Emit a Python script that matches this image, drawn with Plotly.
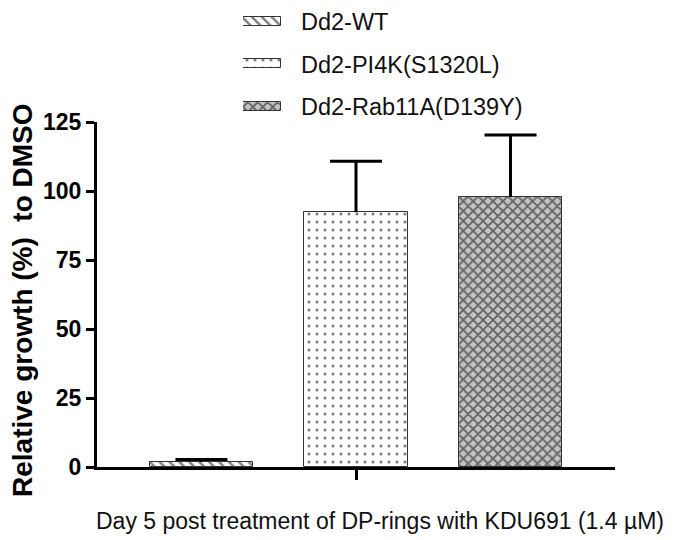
import plotly.graph_objects as go

categories = ["Dd2-WT", "Dd2-PI4K(S1320L)", "Dd2-Rab11A(D139Y)"]
values = [1.8, 92.3, 97.9]
errors = [0.9, 18.5, 22.4]
x_pos = [0, 1, 2]
y_ticks = [0, 25, 50, 75, 100, 125]
x_title = "Day 5 post treatment of DP-rings with KDU691 (1.4 \u00b5M)"
y_title = "Relative growth (%)  to DMSO"

patterns = [
    dict(shape="\\", fgcolor="black", bgcolor="white", size=7, solidity=0.35),
    dict(shape=".", fgcolor="black", bgcolor="white", size=8, solidity=0.12),
    dict(shape="x", fgcolor="black", bgcolor="#c4c4c4", size=7, solidity=0.45),
]

OFF = 8  # page body margin offset
W, H = 675, 540
# target screen positions (pixels) of the plot area
sx0, sx1, sy_top, sy0 = 97, 615, 122, 467
L = sx0 - OFF
R = W - (sx1 - OFF)
T = 0
B = H - (sy0 - OFF)
pw, ph = W - L - R, H - T - B
x_range = [-0.676, 2.676]
cap_half = 26 * (x_range[1] - x_range[0]) / pw  # half cap width in x units

def px_x(p):
    return (p - OFF - L) / pw

def px_y(p):
    return 1 - (p - OFF - T) / ph

font = "Liberation Sans, Arial, sans-serif"
fig = go.Figure()
for i, (c, v, e) in enumerate(zip(categories, values, errors)):
    fig.add_trace(go.Bar(
        x=[x_pos[i]], y=[v], name=c, width=0.667, showlegend=False,
        marker=dict(color=patterns[i]["bgcolor"], pattern=patterns[i],
                    line=dict(color="#333333", width=1)),
    ))

# upper error whiskers with a cap only at the top
tops = [v + e for v, e in zip(values, errors)]
fig.add_trace(go.Scatter(
    x=x_pos, y=tops, mode="markers", showlegend=False, hoverinfo="skip",
    marker=dict(size=1, opacity=0),
    error_y=dict(type="data", array=[0] * len(errors), arrayminus=errors,
                 symmetric=False, color="black", thickness=3, width=0),
    error_x=dict(type="data", array=[cap_half] * len(errors), symmetric=True,
                 color="black", thickness=3, width=0),
))

# legend swatches drawn as horizontal bars in a small overlay subplot
legend_rows = [21, 63.5, 106]
for i, c in enumerate(categories):
    fig.add_trace(go.Bar(
        x=[1], y=[legend_rows[i]], orientation="h", width=9, showlegend=False,
        xaxis="x2", yaxis="y2", hoverinfo="skip",
        marker=dict(color=patterns[i]["bgcolor"], pattern=patterns[i],
                    line=dict(color="#333333", width=1)),
    ))
    fig.add_annotation(text=c, x=px_x(299), y=px_y(legend_rows[i] + 1),
                       xref="paper", yref="paper", xanchor="left", yanchor="middle",
                       showarrow=False, font=dict(size=23.5, family=font, color="#111111"))

fig.add_annotation(text=x_title, x=px_x(380), y=px_y(521), xref="paper", yref="paper",
                   xanchor="center", yanchor="middle", showarrow=False,
                   font=dict(size=23, family=font, color="#111111"))
fig.add_annotation(text=y_title, x=px_x(22), y=px_y(300), xref="paper", yref="paper",
                   xanchor="center", yanchor="middle", showarrow=False, textangle=-90,
                   font=dict(size=28, family=font, color="black", weight="bold"))

fig.update_layout(
    width=W, height=H,
    margin=dict(l=L, r=R, t=T, b=B),
    paper_bgcolor="white", plot_bgcolor="white",
    font=dict(family=font, color="black"),
    showlegend=False, bargap=0,
    xaxis=dict(range=x_range, tickvals=[1], ticktext=[""],
               ticks="outside", ticklen=10, tickwidth=3, tickcolor="black",
               showline=True, linecolor="black", linewidth=3,
               showgrid=False, zeroline=False, automargin=False),
    yaxis=dict(domain=[0, px_y(sy_top)], range=[0, 125], tickvals=y_ticks,
               ticks="outside", ticklen=8, tickwidth=3, tickcolor="black",
               showline=True, linecolor="black", linewidth=3,
               showgrid=False, zeroline=False, automargin=False,
               tickfont=dict(size=23, family=font, weight="bold")),
    xaxis2=dict(domain=[px_x(243), px_x(281)], range=[0, 1], visible=False,
                anchor="y2", fixedrange=True),
    yaxis2=dict(domain=[px_y(120), 1], range=[120, OFF], visible=False,
                anchor="x2", fixedrange=True),
)

fig.write_html("out.html")
